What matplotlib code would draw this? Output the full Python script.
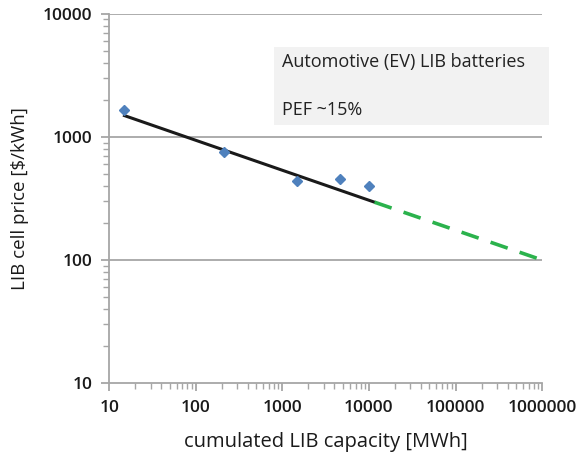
import numpy as np
import matplotlib.pyplot as plt
from matplotlib.ticker import LogLocator, FixedLocator, NullFormatter

plt.rcParams['font.family'] = ['Open Sans', 'DejaVu Sans']

# measured points
capacity = [15, 210, 1490, 4660, 10000]
price = [1650, 752, 435, 451, 398]

# experience-curve fit and its projection
fit_x = [15, 11600]
fit_y = [1490, 295]
proj_x = [11600, 1000000]
proj_y = [295, 100]

x_ticks = [10, 100, 1000, 10000, 100000, 1000000]
y_ticks = [10, 100, 1000, 10000]

fig = plt.figure(figsize=(5.81, 4.61), dpi=100)
ax = fig.add_axes([0.188, 0.169, 0.745, 0.801])
ax.set_xscale('log')
ax.set_yscale('log')
ax.set_xlim(10, 1000000)
ax.set_ylim(10, 10000)

grey = '#a6a6a6'
for y in y_ticks[1:]:
    ax.axhline(y, color=grey, lw=1.3, zorder=0)

ax.plot(fit_x, fit_y, color='#1a1a1a', lw=2.2, zorder=3)
ax.plot(proj_x, proj_y, color='#2bb24c', lw=2.6, ls=(0, (5, 3.5)), zorder=3)
ax.plot(capacity, price, ls='none', marker='D', ms=5.5, color='#4f81bd', zorder=4)

for s in ['top', 'right']:
    ax.spines[s].set_visible(False)
for s in ['left', 'bottom']:
    ax.spines[s].set_color(grey)
    ax.spines[s].set_linewidth(1.3)

ax.xaxis.set_major_locator(FixedLocator(x_ticks))
ax.yaxis.set_major_locator(FixedLocator(y_ticks))
ax.set_xticklabels([str(v) for v in x_ticks])
ax.set_yticklabels([str(v) for v in y_ticks])
ax.xaxis.set_minor_locator(LogLocator(base=10, subs=np.arange(2, 10), numticks=20))
ax.yaxis.set_minor_locator(LogLocator(base=10, subs=np.arange(2, 10), numticks=20))
ax.xaxis.set_minor_formatter(NullFormatter())
ax.yaxis.set_minor_formatter(NullFormatter())
ax.tick_params(which='major', direction='out', length=6, width=1.3, color=grey,
               labelsize=12.5, labelcolor='#1a1a1a', pad=6)
ax.tick_params(which='minor', direction='out', length=4, width=1, color=grey)
for lab in ax.get_xticklabels() + ax.get_yticklabels():
    lab.set_fontweight('semibold')

ax.set_xlabel('cumulated LIB capacity [MWh]', fontsize=14.5, color='#1a1a1a', labelpad=12)
ax.set_ylabel('LIB cell price [$/kWh]', fontsize=13.5, color='#1a1a1a', labelpad=10)

box = plt.Rectangle((0.38, 0.70), 0.635, 0.21, transform=ax.transAxes,
                    facecolor='#f2f2f2', edgecolor='none', zorder=1, clip_on=False)
ax.add_patch(box)
ax.text(0.40, 0.87, 'Automotive (EV) LIB batteries', transform=ax.transAxes,
        fontsize=13, color='#222222', va='center', ha='left', zorder=2)
ax.text(0.40, 0.74, 'PEF ~15%', transform=ax.transAxes,
        fontsize=13, color='#222222', va='center', ha='left', zorder=2)

fig.savefig('out.png', dpi=100)
